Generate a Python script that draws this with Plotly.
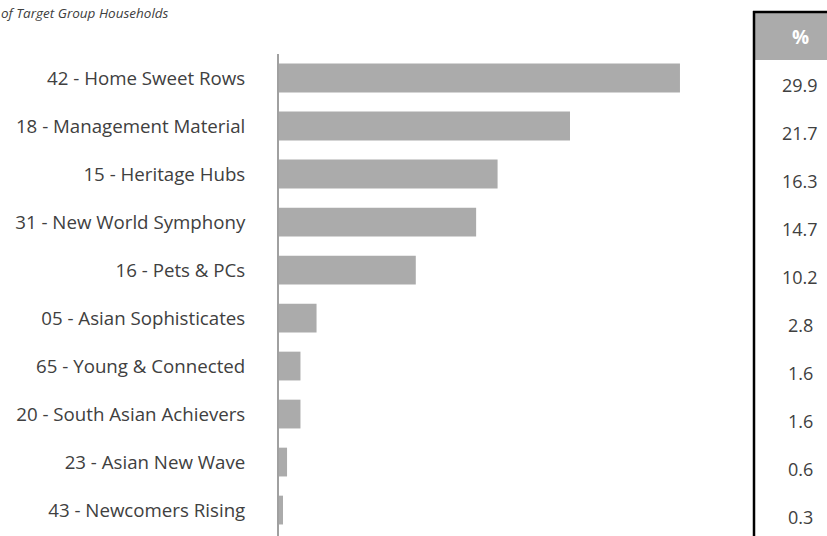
import plotly.graph_objects as go

categories = [
    "42 - Home Sweet Rows",
    "18 - Management Material",
    "15 - Heritage Hubs",
    "31 - New World Symphony",
    "16 - Pets & PCs",
    "05 - Asian Sophisticates",
    "65 - Young & Connected",
    "20 - South Asian Achievers",
    "23 - Asian New Wave",
    "43 - Newcomers Rising",
]
values = [29.9, 21.7, 16.3, 14.7, 10.2, 2.8, 1.6, 1.6, 0.6, 0.3]
subtitle = "of Target Group Households"
table_header = "%"

W, H = 827, 536
FONT = "Open Sans"
TXT = "#404040"
BAR = "#ababab"

ypos = list(range(len(categories)))

fig = go.Figure(go.Bar(
    x=values, y=ypos, orientation="h",
    marker=dict(color=BAR, line=dict(width=0)),
    width=0.6, hoverinfo="skip",
))

x0 = 279 / W
x1 = 740 / W
px_per_unit = 13.41
xmax = (740 - 279) / px_per_unit

fig.update_layout(
    width=W, height=H,
    margin=dict(l=0, r=0, t=0, b=0),
    paper_bgcolor="white", plot_bgcolor="white",
    showlegend=False,
    xaxis=dict(domain=[x0, x1], range=[0, xmax], visible=False, fixedrange=True),
    yaxis=dict(
        domain=[0, 1 - 54 / H],
        range=[len(categories) - 0.5 + 0.04, -0.5],
        tickmode="array", tickvals=ypos, ticktext=categories,
        showline=True, linecolor="#a0a0a0", linewidth=2,
        showgrid=False, zeroline=False, ticks="",
        ticklabelstandoff=28,
        tickfont=dict(family=FONT, size=18.7, color=TXT),
    ),
    font=dict(family=FONT),
)

# subtitle
fig.add_annotation(
    x=171 / W, y=1 - 13 / H, xref="paper", yref="paper",
    xanchor="right", yanchor="middle", showarrow=False,
    text="<i>" + subtitle + "</i>",
    font=dict(family=FONT, size=13.5, color=TXT),
)

# table header
tx0 = 755 / W
fig.add_shape(type="rect", xref="paper", yref="paper",
              x0=tx0, x1=1, y0=1 - 60 / H, y1=1 - 12 / H,
              fillcolor="#ababab", line=dict(width=0))
fig.add_shape(type="line", xref="paper", yref="paper",
              x0=753 / W, x1=1, y0=1 - 12 / H, y1=1 - 12 / H,
              line=dict(color="black", width=2.5))
fig.add_shape(type="line", xref="paper", yref="paper",
              x0=754 / W, x1=754 / W, y0=0, y1=1 - 11 / H,
              line=dict(color="black", width=2.5))
fig.add_annotation(
    x=800 / W, y=1 - 37 / H, xref="paper", yref="paper",
    xanchor="center", yanchor="middle", showarrow=False,
    text="<b>" + table_header + "</b>",
    font=dict(family=FONT, size=19, color="white"),
)

for yi, v in zip(ypos, values):
    fig.add_annotation(
        x=800 / W, y=yi, xref="paper", yref="y",
        xanchor="center", yanchor="middle", showarrow=False,
        yshift=-7,
        text=f"{v:.1f}",
        font=dict(family=FONT, size=18, color=TXT),
    )

fig.write_html("out.html", config={"displayModeBar": False})
